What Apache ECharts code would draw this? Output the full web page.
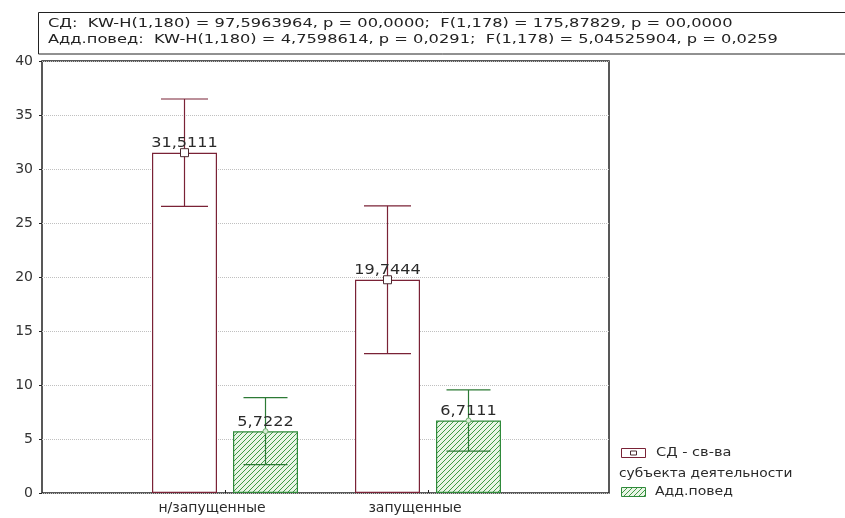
<!DOCTYPE html>
<html>
<head>
<meta charset="utf-8">
<script src="https://cdn.jsdelivr.net/npm/echarts@6/dist/echarts.min.js"></script>
<style>
  html, body { margin: 0; padding: 0; background: #fff; }
  #chart { width: 845px; height: 518px; }
</style>
</head>
<body>
<div id="chart"></div>
<script>
// Group means and confidence half-widths for the two measures
const categories = ['н/запущенные', 'запущенные'];
const seriesNames = ['СД - св-ва субъекта деятельности', 'Адд.повед'];
const sdMeans = [31.5111, 19.7444];
const sdErrors = [4.97, 6.84];
const addMeans = [5.7222, 6.7111];
const addErrors = [3.1, 2.83];
const yTicks = { min: 0, max: 40, interval: 5 };
const statLines = [
  'СД:  KW-H(1,180) = 97,5963964, p = 00,0000;  F(1,178) = 175,87829, p = 00,0000',
  'Адд.повед:  KW-H(1,180) = 4,7598614, p = 0,0291;  F(1,178) = 5,04525904, p = 0,0259'
];

const FONT = '"DejaVu Sans", "Liberation Sans", sans-serif';
const MAROON = '#7a2236';
const GREEN = '#2f8a3a';
const BAR_W = 65;
const BAR_GAP = 16;
const SHIFT = (BAR_W + BAR_GAP) / 2;

// diagonal hatch tile for the second measure
function hatchTile() {
  const c = document.createElement('canvas');
  c.width = 5; c.height = 5;
  const g = c.getContext('2d');
  g.fillStyle = '#e9f5e6';
  g.fillRect(0, 0, 5, 5);
  g.strokeStyle = '#3f9a45';
  g.lineWidth = 1;
  g.beginPath();
  g.moveTo(-1, 6); g.lineTo(6, -1);
  g.moveTo(-1, 1); g.lineTo(1, -1);
  g.moveTo(4, 6); g.lineTo(6, 4);
  g.stroke();
  return c;
}
const hatch = { image: hatchTile(), repeat: 'repeat' };

const fmt = v => v.toFixed(4).replace('.', ',');

function errorSeries(name, means, errors, shift, color, whisker, markerKind) {
  return {
    type: 'custom',
    name: name,
    xAxisIndex: 1,
    yAxisIndex: 1,
    z: 10,
    data: means.map((m, i) => [i, m, errors[i]]),
    renderItem: function (params, api) {
      const i = api.value(0), m = api.value(1), e = api.value(2);
      const c = api.coord([i, m]);
      const hi = api.coord([i, m + e]);
      const lo = api.coord([i, m - e]);
      const x = c[0] + shift;
      const hw = whisker / 2;
      const ls = { stroke: color, lineWidth: 1.2 };
      const children = [
        { type: 'line', shape: { x1: x, y1: hi[1], x2: x, y2: lo[1] }, style: ls },
        { type: 'line', shape: { x1: x - hw, y1: hi[1], x2: x + hw, y2: hi[1] }, style: ls },
        { type: 'line', shape: { x1: x - hw, y1: lo[1], x2: x + hw, y2: lo[1] }, style: ls }
      ];
      if (markerKind === 'square') {
        children.push({ type: 'rect', shape: { x: x - 4, y: c[1] - 4, width: 8, height: 8 },
          style: { fill: '#fff', stroke: '#4a2a30', lineWidth: 1 } });
      } else {
        children.push({ type: 'circle', shape: { cx: x, cy: c[1], r: 2.5 },
          style: { fill: '#d8eed5', stroke: '#6fae6f', lineWidth: 1 } });
      }
      children.push({ type: 'text', x: x, y: c[1] - 2, scaleX: 1.15,
        style: { text: fmt(m), align: 'center', verticalAlign: 'bottom',
          font: '14px ' + FONT, fill: '#2a2a2a' } });
      return { type: 'group', children: children };
    }
  };
}

const chart = echarts.init(document.getElementById('chart'), null, { renderer: 'canvas' });

chart.setOption({
  animation: false,
  backgroundColor: '#fff',
  grid: [
    { left: 42, right: 236, top: 61, bottom: 25, show: true, borderColor: '#222', borderWidth: 1.5, backgroundColor: 'transparent' },
    { left: 123.5, right: 315.5, top: 61, bottom: 25 }
  ],
  xAxis: [
    { type: 'value', gridIndex: 0, min: 0, max: 1, show: false },
    {
      type: 'category', gridIndex: 1, data: categories,
      axisLine: { show: false },
      axisTick: { show: true, inside: true, length: 3, alignWithLabel: true, lineStyle: { color: '#222' } },
      axisLabel: {
        color: '#2a2a2a', fontSize: 14, fontFamily: FONT, margin: 8,
        formatter: v => '{a|' + v + '}',
        rich: { a: { fontSize: 14, fontFamily: FONT, color: '#2a2a2a', padding: [0, 26, 0, 0] } }
      }
    }
  ],
  yAxis: [
    {
      type: 'value', gridIndex: 0, min: yTicks.min, max: yTicks.max, interval: yTicks.interval,
      axisLine: { show: false },
      axisTick: { show: true, length: 3, lineStyle: { color: '#222' } },
      axisLabel: { color: '#333', fontSize: 14, fontFamily: FONT, margin: 9 },
      splitLine: { show: true, lineStyle: { color: '#c0c0c0', type: [1, 1], width: 1 } }
    },
    { type: 'value', gridIndex: 1, min: yTicks.min, max: yTicks.max, interval: yTicks.interval, show: false, splitLine: { show: false } }
  ],
  series: [
    {
      type: 'bar', name: seriesNames[0], xAxisIndex: 1, yAxisIndex: 1,
      data: sdMeans, barWidth: BAR_W, barGap: (BAR_GAP / BAR_W * 100) + '%',
      itemStyle: { color: '#fff', borderColor: MAROON, borderWidth: 1.2 }
    },
    {
      type: 'bar', name: seriesNames[1], xAxisIndex: 1, yAxisIndex: 1,
      data: addMeans, barWidth: BAR_W,
      itemStyle: { color: hatch, borderColor: GREEN, borderWidth: 1.2 }
    },
    errorSeries(seriesNames[0], sdMeans, sdErrors, -SHIFT, MAROON, 47, 'square'),
    errorSeries(seriesNames[1], addMeans, addErrors, SHIFT, '#2c7a35', 44, 'circle')
  ],
  graphic: [
    // statistics box above the plot
    { type: 'rect', shape: { x: 38.5, y: 12.5, width: 820, height: 41.5 },
      style: { fill: '#fff', stroke: '#222', lineWidth: 1 }, z: 5 },
    { type: 'text', x: 48, y: 16, scaleX: 1.25, z: 6,
      style: { text: statLines.join('\n'), font: '13px ' + FONT, fill: '#222', lineHeight: 16 } },
    // legend
    { type: 'rect', shape: { x: 621.5, y: 448.5, width: 24, height: 9 },
      style: { fill: '#fff', stroke: MAROON, lineWidth: 1 }, z: 5 },
    { type: 'rect', shape: { x: 630.5, y: 451, width: 6, height: 4 },
      style: { fill: '#fff', stroke: '#4a2a30', lineWidth: 1 }, z: 6 },
    { type: 'text', x: 656, y: 453, scaleX: 1.12, z: 6,
      style: { text: 'СД - св-ва', font: '13px ' + FONT, fill: '#2a2a2a', verticalAlign: 'middle' } },
    { type: 'text', x: 619, y: 474, scaleX: 1.06, z: 6,
      style: { text: 'субъекта деятельности', font: '13px ' + FONT, fill: '#2a2a2a', verticalAlign: 'middle' } },
    { type: 'rect', shape: { x: 621.5, y: 487.5, width: 24, height: 9 },
      style: { fill: hatch, stroke: GREEN, lineWidth: 1 }, z: 5 },
    { type: 'text', x: 655, y: 492, scaleX: 1.08, z: 6,
      style: { text: 'Адд.повед', font: '13px ' + FONT, fill: '#2a2a2a', verticalAlign: 'middle' } }
  ]
});
</script>
</body>
</html>
